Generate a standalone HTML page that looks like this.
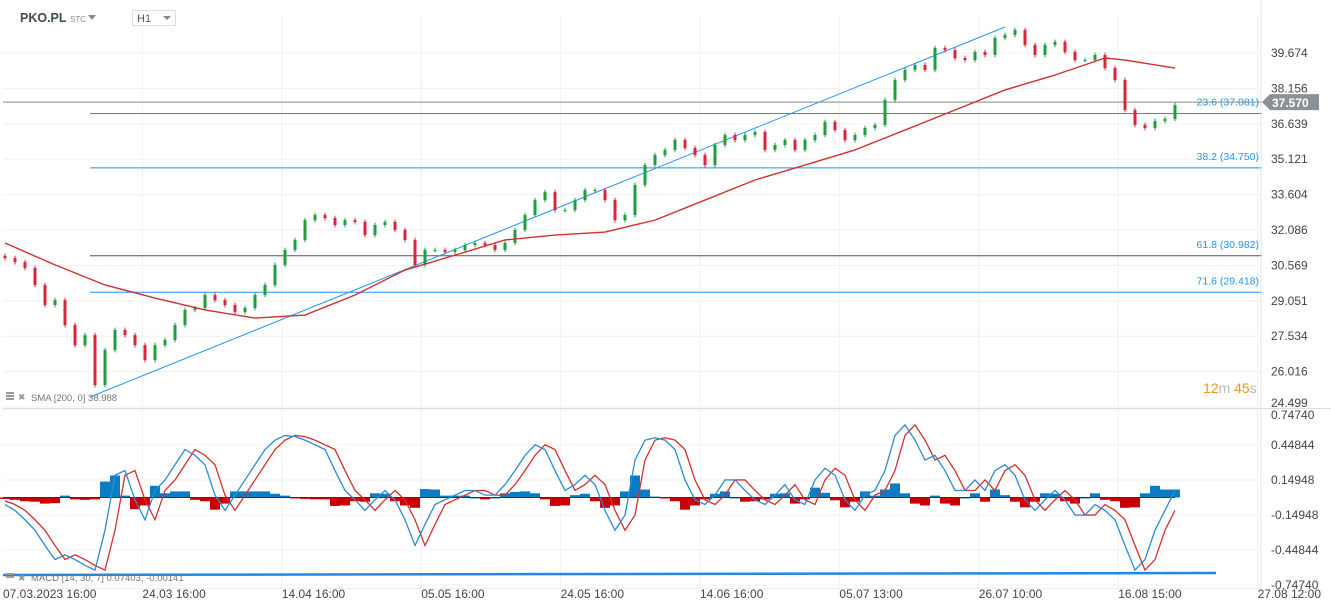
<!DOCTYPE html>
<html><head><meta charset="utf-8"><style>
html,body{margin:0;padding:0;background:#fff;width:1331px;height:611px;overflow:hidden;font-family:"Liberation Sans",sans-serif}
svg{display:block}
</style></head><body>
<svg id="c" width="1331" height="611" viewBox="0 0 1331 611">
<g id="grid"></g>
<g id="price"></g>
<g id="macd"></g>
<g id="axes"></g>
<text x="20" y="22" font-size="12.5" font-weight="bold" fill="#3d4a52">PKO.PL</text>
<text x="70" y="22" font-size="8" fill="#888">STC</text>
<path d="M88 15 L96 15 L92 20 Z" fill="#888"/>
<rect x="132.5" y="10.5" width="43" height="15" fill="#fff" stroke="#ddd"/>
<text x="137" y="22" font-size="11" fill="#555">H1</text>
<path d="M163 16 L171 16 L167 20 Z" fill="#888"/>
<text x="1203" y="393" font-size="14" fill="#f7931a">12<tspan fill="#bbb">m</tspan> 45<tspan fill="#bbb">s</tspan></text>
<g><rect x="6" y="392" width="8" height="2" fill="#999"/><rect x="6" y="395" width="8" height="2" fill="#999"/><rect x="6" y="398" width="8" height="2" fill="#999"/><text x="18" y="400" font-size="9" fill="#999">✖</text><text x="31" y="401" font-size="9.5" fill="#777">SMA  [200,  0]  38.988</text></g>
<g><rect x="6" y="573" width="8" height="2" fill="#999"/><rect x="6" y="576" width="8" height="2" fill="#999"/><text x="18" y="581" font-size="9" fill="#999">✖</text><text x="31" y="581" font-size="9.5" fill="#777">MACD  [14,  30,  7]  0.07403,  -0.00141</text></g>
</svg>
<script>
const closes=[30.88,30.71,30.46,29.73,28.87,29.08,28.01,27.15,27.58,25.44,26.94,27.80,27.58,27.15,26.51,27.15,27.37,28.01,28.66,28.74,29.30,29.08,28.87,28.57,28.74,29.30,29.73,30.59,31.23,31.66,32.51,32.73,32.60,32.30,32.51,32.43,31.87,32.30,32.43,32.09,31.66,30.59,31.23,31.23,31.14,31.23,31.44,31.53,31.44,31.23,31.53,32.09,32.73,33.37,33.71,32.94,32.94,33.37,33.80,33.80,33.37,32.51,32.73,34.02,34.87,35.30,35.52,35.94,35.60,35.30,34.87,35.73,36.16,35.94,36.16,36.29,35.52,35.73,35.94,35.52,35.94,36.16,36.72,36.37,35.94,36.16,36.46,36.59,37.66,38.52,38.95,39.16,38.95,39.89,39.80,39.46,39.37,39.72,39.59,40.32,40.45,40.66,40.02,39.59,40.02,40.15,39.72,39.37,39.37,39.59,39.03,38.52,37.23,36.59,36.46,36.76,36.85,37.44];
const smaIdx=[0,5,10,15,20,25,30,35,40,45,50,55,60,65,70,75,80,85,90,95,100,105,110,112,117];
const smaVals=[31.53,30.59,29.73,29.17,28.66,28.31,28.44,29.30,30.37,31.01,31.66,31.87,32.00,32.51,33.37,34.23,34.87,35.52,36.37,37.23,38.09,38.73,39.46,39.37,39.03];
const macdVals=[-0.06,-0.11,-0.19,-0.28,-0.41,-0.53,-0.49,-0.53,-0.58,-0.62,-0.28,0.19,0.23,-0.02,-0.19,0.06,0.15,0.28,0.41,0.36,0.28,0.02,-0.11,0.02,0.15,0.28,0.41,0.49,0.53,0.52,0.49,0.45,0.41,0.23,0.06,-0.02,-0.11,-0.02,0.06,-0.02,-0.19,-0.41,-0.23,-0.06,-0.02,0.02,0.06,0.06,0.02,0.02,0.11,0.23,0.36,0.45,0.41,0.23,0.06,0.11,0.19,0.11,-0.11,-0.28,-0.15,0.32,0.49,0.51,0.49,0.41,0.15,-0.02,-0.06,0.02,0.15,0.15,0.06,-0.02,-0.06,0.02,0.11,-0.02,-0.06,0.15,0.25,0.19,-0.02,-0.11,0.02,0.06,0.23,0.53,0.62,0.49,0.32,0.36,0.23,0.06,0.06,0.15,0.06,0.23,0.28,0.19,-0.02,-0.11,-0.02,0.06,-0.02,-0.15,-0.15,-0.06,-0.11,-0.19,-0.41,-0.62,-0.53,-0.28,-0.11,0.06];
const signalVals=[-0.03,-0.06,-0.11,-0.19,-0.28,-0.41,-0.53,-0.49,-0.53,-0.58,-0.62,-0.28,0.19,0.23,-0.02,-0.19,0.06,0.15,0.28,0.41,0.36,0.28,0.02,-0.11,0.02,0.15,0.28,0.41,0.49,0.53,0.52,0.49,0.45,0.41,0.23,0.06,-0.02,-0.11,-0.02,0.06,-0.02,-0.19,-0.41,-0.23,-0.06,-0.02,0.02,0.06,0.06,0.02,0.02,0.11,0.23,0.36,0.45,0.41,0.23,0.06,0.11,0.19,0.11,-0.11,-0.28,-0.15,0.32,0.49,0.51,0.49,0.41,0.15,-0.02,-0.06,0.02,0.15,0.15,0.06,-0.02,-0.06,0.02,0.11,-0.02,-0.06,0.15,0.25,0.19,-0.02,-0.11,0.02,0.06,0.23,0.53,0.62,0.49,0.32,0.36,0.23,0.06,0.06,0.15,0.06,0.23,0.28,0.19,-0.02,-0.11,-0.02,0.06,-0.02,-0.15,-0.15,-0.06,-0.11,-0.19,-0.41,-0.62,-0.53,-0.28,-0.11];
const priceTicks=["39.674","38.156","36.639","35.121","33.604","32.086","30.569","29.051","27.534","26.016","24.499"];
const macdTicks=["0.74740","0.44844","0.14948","-0.14948","-0.44844","-0.74740"];
const dateLabels=["07.03.2023  16:00","24.03  16:00","14.04  16:00","05.05  16:00","24.05  16:00","14.06  16:00","05.07  13:00","26.07  10:00","16.08  15:00","27.08  12:00"];
const fibLabels=["23.6 (37.081)","38.2 (34.750)","61.8 (30.982)","71.6 (29.418)"];
const fibVals=[37.081,34.750,30.982,29.418];
const lastPrice=37.570;

const NS="http://www.w3.org/2000/svg";
function mk(p,t,a){const e=document.createElementNS(NS,t);for(const k in a)e.setAttribute(k,a[k]);p.appendChild(e);return e;}
const py=v=>53+(39.674-v)/1.5175*35.4;
const my=v=>497.5-v/0.29896*35;
const bx=i=>5+i*10;
const G=document.getElementById('grid'),P=document.getElementById('price'),M=document.getElementById('macd'),A=document.getElementById('axes');

priceTicks.forEach((t,i)=>{const y=53+i*35.4;
 const l=mk(G,'line',{x1:3,x2:1260,y1:y,y2:y,stroke:'#f0f0f0'});
 
 const tx=mk(A,'text',{x:1271,y:Math.min(y+4,407),'font-size':12,fill:'#444'});tx.textContent=t;
 });
macdTicks.forEach((t,i)=>{const y=my(0.7474-i*0.29896);
 const l=mk(G,'line',{x1:3,x2:1260,y1:y,y2:y,stroke:'#f0f0f0'});
 
 const tx=mk(A,'text',{x:1271,y:Math.max(y+4,419),'font-size':12,fill:'#444'});tx.textContent=t;
 });
dateLabels.forEach((t,i)=>{const x=3+i*139.4;
 if(i>0){const l=mk(G,'line',{x1:x,x2:x,y1:15,y2:588,stroke:'#f0f0f0'});
 }
 const tx=mk(A,'text',{x:x,y:598,'font-size':12,fill:'#444'});tx.textContent=t;
 });
let e=mk(A,'line',{x1:1261,x2:1261,y1:0,y2:588,stroke:'#e6e6e6'});
e=mk(A,'line',{x1:3,x2:1331,y1:408.5,y2:408.5,stroke:'#ddd'});
e=mk(A,'line',{x1:3,x2:1262,y1:588.5,y2:588.5,stroke:'#eee'});

fibVals.forEach((v,i)=>{const y=py(v);
 const l=mk(P,'line',{x1:90,x2:1262,y1:y,y2:y,stroke:i==2?'#555':'#1e90ff','stroke-width':1});
 
 const t=mk(P,'text',{x:1259,y:y-8,'font-size':10.5,fill:'#2196f3','text-anchor':'end'});t.textContent=fibLabels[i];
 });
e=mk(P,'line',{x1:90,y1:397,x2:1005,y2:27,stroke:'#2196f3','stroke-width':1});
const ly=py(lastPrice);
e=mk(P,'line',{x1:3,x2:1262,y1:ly,y2:ly,stroke:'#888'});
e=mk(P,'path',{d:`M1262 ${ly} L1270 ${ly-8} L1319 ${ly-8} L1319 ${ly+8} L1270 ${ly+8} Z`,fill:'#8a9296'});
e=mk(P,'text',{x:1272,y:ly+5,'font-size':12,'font-weight':'bold',fill:'#fff'});e.textContent=lastPrice.toFixed(3);

closes.forEach((c,i)=>{const o=i?closes[i-1]:c+0.1;const up=c>=o;const col=up?'#1e9e3e':'#d7263d';
 const hi=Math.max(o,c)+0.1,lo=Math.min(o,c)-0.1;const x=bx(i);
 const w=mk(P,'line',{x1:x,x2:x,y1:py(hi),y2:py(lo),stroke:col});
 
 const b=mk(P,'rect',{x:x-1.5,y:py(Math.max(o,c)),width:3,height:Math.max(1,Math.abs(py(o)-py(c))),fill:col});
 });
e=mk(P,'polyline',{points:smaIdx.map((k,i)=>bx(k)+','+py(smaVals[i])).join(' '),fill:'none',stroke:'#d32f2f','stroke-width':1.4,'stroke-linejoin':'round'});


macdVals.forEach((v,i)=>{const h=(v-signalVals[i])*0.4;const y0=my(0),y1=my(h);
 const r=mk(M,'rect',{x:bx(i)-5,y:Math.min(y0,y1),width:10,height:Math.max(1,Math.abs(y1-y0)),fill:h>=0?'#0a7cc4':'#cc0000'});
 });
e=mk(M,'line',{x1:3,x2:1175,y1:my(0),y2:my(0),stroke:'#333'});
e=mk(M,'polyline',{points:signalVals.map((v,i)=>bx(i)+','+my(v)).join(' '),fill:'none',stroke:'#d32f2f','stroke-width':1.3});

e=mk(M,'polyline',{points:macdVals.map((v,i)=>bx(i)+','+my(v)).join(' '),fill:'none',stroke:'#2a8bd6','stroke-width':1.3});

e=mk(M,'line',{x1:3,x2:1216,y1:575,y2:573,stroke:'#1e88e5','stroke-width':2.5});

</script>
</body></html>
